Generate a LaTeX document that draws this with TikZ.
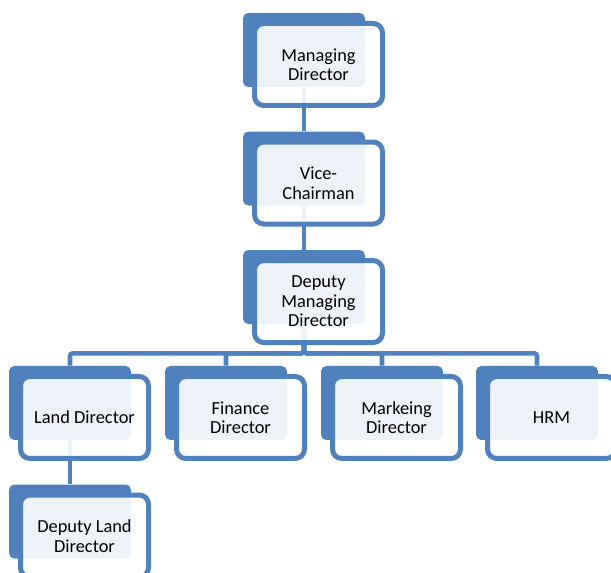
\documentclass[tikz,border=0pt]{standalone}
\usepackage{fontspec}
\setmainfont{Carlito}
\usetikzlibrary{positioning}
\usetikzlibrary{backgrounds}

\definecolor{orgblue}{HTML}{4F81BD}

\tikzset{
  backbox/.style={fill=orgblue, rounded corners=4pt, inner sep=0pt,
    minimum width=91.5pt, minimum height=55.5pt},
  textbox/.style={draw=orgblue, line width=3.75pt, fill=white,
    fill opacity=0.9, text opacity=1, rounded corners=7pt,
    minimum width=96pt, minimum height=61.5pt, align=center,
    font=\fontsize{13.8}{14.6}\selectfont},
  link/.style={draw=orgblue, line width=3.4pt, rounded corners=2pt}
}

\begin{document}
\begin{tikzpicture}[x=0.75pt, y=-0.75pt, node distance=33pt]
    \useasboundingbox (0,0) rectangle (611,573);

    % back boxes
    \node [backbox] (md) at (304,50) {};
    \node [backbox, below=of md] (vc) {};
    \node [backbox, below=of vc] (dmd) {};

    \foreach \name/\x in {land/70, fin/226, mkt/382, hrm/537}
      \node [backbox] (\name) at (\x,403) {};

    \node [backbox, below=of land] (dland) {};

    % text frames, shifted down and right
    \foreach \name/\label in {md/{Managing\\Director},
        vc/{Vice-\\Chairman},
        dmd/{Deputy\\Managing\\Director},
        land/{Land Director},
        fin/{Finance\\Director},
        mkt/{Markeing\\Director},
        hrm/HRM,
        dland/{Deputy Land\\Director}}
      \node [textbox] (\name-text) at ([shift={(14.5,14.5)}]\name.center) {\label};

    % connectors
    \begin{scope}[on background layer]
      \draw [link] (md) -- (vc);
      \draw [link] (vc) -- (dmd);
      \foreach \name in {land, fin, mkt, hrm}
        \draw [link] (dmd.south) -- ++(0,29) -| (\name.north);
      \draw [link] (land) -- (dland);
    \end{scope}

  \end{tikzpicture}
\end{document}
